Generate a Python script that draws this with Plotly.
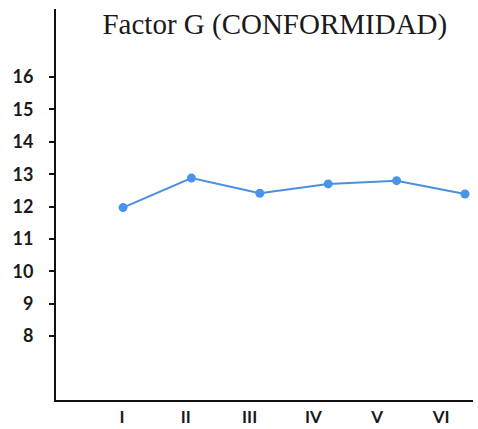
import plotly.graph_objects as go

periodos = ["I", "II", "III", "IV", "V", "VI"]
valores = [11.97, 12.88, 12.41, 12.70, 12.80, 12.39]
y_ticks = [8, 9, 10, 11, 12, 13, 14, 15, 16]
titulo = "Factor G (CONFORMIDAD)"

xs = list(range(1, len(periodos) + 1))
# the printed labels sit a little left of the points
label_pos = [0.985 + 0.933 * k for k in range(len(periodos))]

fig = go.Figure()
fig.add_trace(go.Scatter(
    x=xs, y=valores, mode="lines+markers",
    line=dict(color="#4a8fe0", width=2),
    marker=dict(color="#4a93ea", size=9),
    cliponaxis=False, showlegend=False, hoverinfo="skip"))

tick_font = dict(family="Lato", size=18, color="#1a1a1a", weight="bold")

fig.update_layout(
    width=478, height=429,
    margin=dict(l=56, r=5, t=9, b=29, autoexpand=False),
    paper_bgcolor="white", plot_bgcolor="white",
    title=dict(text=titulo, x=0.575, xanchor="center", y=0.944, yanchor="middle",
               font=dict(family="Liberation Serif", size=29, color="#1a1a1a")),
    xaxis=dict(range=[0.02, 6.117], showgrid=False, zeroline=False, automargin=False,
               showline=True, linecolor="#111", linewidth=2,
               tickvals=label_pos, ticktext=periodos, ticks="",
               tickfont=dict(tick_font, size=17), ticklabelstandoff=1),
    yaxis=dict(range=[6.03, 18.10], showgrid=False, zeroline=False, automargin=False,
               showline=True, linecolor="#111", linewidth=2,
               tickvals=y_ticks, ticks="outside", ticklen=5, tickwidth=2,
               tickcolor="#111", tickfont=tick_font, ticklabelstandoff=12),
    yaxis2=dict(range=[6.03, 18.10], overlaying="y", side="left", anchor="x",
                showgrid=False, zeroline=False, showline=False, automargin=False,
                tickvals=y_ticks, ticks="inside", ticklen=5, tickwidth=2,
                tickcolor="#111", showticklabels=False),
)

# page has a default 8px body margin, drop it so the figure fills the window
fig.write_html("out.html", config={"displayModeBar": False},
               post_script="document.body.style.margin='0';")
